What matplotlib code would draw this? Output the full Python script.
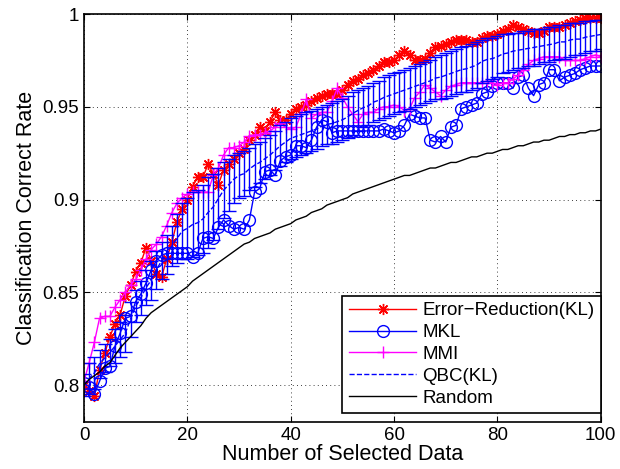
import numpy as np
import matplotlib
matplotlib.use("Agg")
import matplotlib.pyplot as plt

plt.rcParams['font.family'] = ['Liberation Sans', 'DejaVu Sans']

n_selected = list(range(0, 101))

error_reduction = [
    0.800, 0.797, 0.794, 0.808, 0.817, 0.826, 0.833, 0.838, 0.848, 0.854,
    0.861, 0.866, 0.874, 0.867, 0.860, 0.858, 0.868, 0.877, 0.888, 0.895,
    0.900, 0.907, 0.912, 0.912, 0.919, 0.914, 0.908, 0.916, 0.919, 0.922,
    0.925, 0.927, 0.932, 0.935, 0.939, 0.937, 0.942, 0.947, 0.943, 0.943,
    0.946, 0.949, 0.950, 0.951, 0.953, 0.955, 0.956, 0.957, 0.957, 0.957,
    0.959, 0.962, 0.964, 0.965, 0.967, 0.968, 0.970, 0.972, 0.974, 0.974,
    0.975, 0.978, 0.980, 0.978, 0.975, 0.975, 0.976, 0.979, 0.982, 0.983,
    0.984, 0.985, 0.986, 0.986, 0.986, 0.985, 0.985, 0.987, 0.988, 0.988,
    0.989, 0.991, 0.992, 0.994, 0.993, 0.992, 0.991, 0.990, 0.990, 0.991,
    0.993, 0.993, 0.993, 0.994, 0.995, 0.996, 0.997, 0.998, 0.998, 0.998,
    0.998]

mkl = [
    0.801, 0.799, 0.795, 0.802, 0.809, 0.810, 0.821, 0.828, 0.836, 0.837,
    0.845, 0.849, 0.855, 0.862, 0.867, 0.870, 0.871, 0.871, 0.871, 0.871,
    0.871, 0.869, 0.871, 0.879, 0.880, 0.879, 0.885, 0.889, 0.886, 0.884,
    0.885, 0.884, 0.889, 0.904, 0.906, 0.915, 0.916, 0.913, 0.921, 0.923,
    0.924, 0.929, 0.929, 0.928, 0.932, 0.939, 0.943, 0.942, 0.936, 0.937,
    0.937, 0.937, 0.937, 0.937, 0.937, 0.937, 0.937, 0.937, 0.938, 0.937,
    0.936, 0.937, 0.940, 0.946, 0.945, 0.944, 0.944, 0.932, 0.931, 0.934,
    0.931, 0.939, 0.940, 0.949, 0.950, 0.951, 0.952, 0.957, 0.958, 0.961,
    0.963, 0.963, 0.963, 0.960, 0.966, 0.967, 0.960, 0.956, 0.962, 0.963,
    0.970, 0.970, 0.964, 0.966, 0.967, 0.968, 0.970, 0.971, 0.972, 0.972,
    0.972]

mmi = [
    0.802, 0.812, 0.823, 0.836, 0.837, 0.837, 0.842, 0.846, 0.850, 0.854,
    0.857, 0.862, 0.868, 0.873, 0.876, 0.880, 0.886, 0.893, 0.898, 0.901,
    0.903, 0.904, 0.904, 0.904, 0.904, 0.913, 0.917, 0.924, 0.928, 0.928,
    0.929, 0.931, 0.934, 0.935, 0.935, 0.936, 0.937, 0.939, 0.941, 0.939,
    0.938, 0.939, 0.946, 0.954, 0.944, 0.946, 0.947, 0.947, 0.953, 0.960,
    0.955, 0.950, 0.946, 0.942, 0.946, 0.947, 0.947, 0.949, 0.950, 0.950,
    0.951, 0.950, 0.948, 0.949, 0.955, 0.958, 0.962, 0.960, 0.958, 0.956,
    0.959, 0.961, 0.962, 0.963, 0.963, 0.963, 0.963, 0.963, 0.964, 0.963,
    0.962, 0.963, 0.963, 0.965, 0.967, 0.970, 0.973, 0.975, 0.976, 0.977,
    0.977, 0.977, 0.977, 0.975, 0.975, 0.975, 0.975, 0.976, 0.977, 0.978,
    0.977]

qbc_mean = [
    0.8000, 0.8035, 0.8065, 0.8115, 0.8145, 0.8175, 0.8210, 0.8245, 0.8280, 0.8355,
    0.8425, 0.8470, 0.8525, 0.8565, 0.8620, 0.8670, 0.8705, 0.8750, 0.8790, 0.8830,
    0.8845, 0.8865, 0.8875, 0.8895, 0.8930, 0.8960, 0.9005, 0.9050, 0.9080, 0.9110,
    0.9130, 0.9140, 0.9165, 0.9185, 0.9200, 0.9220, 0.9240, 0.9265, 0.9290, 0.9310,
    0.9330, 0.9340, 0.9350, 0.9360, 0.9370, 0.9380, 0.9395, 0.9405, 0.9410, 0.9420,
    0.9430, 0.9445, 0.9465, 0.9480, 0.9495, 0.9505, 0.9525, 0.9535, 0.9550, 0.9560,
    0.9570, 0.9580, 0.9590, 0.9600, 0.9610, 0.9620, 0.9630, 0.9640, 0.9655, 0.9660,
    0.9670, 0.9680, 0.9690, 0.9700, 0.9705, 0.9715, 0.9725, 0.9745, 0.9755, 0.9760,
    0.9770, 0.9785, 0.9790, 0.9800, 0.9805, 0.9810, 0.9815, 0.9820, 0.9825, 0.9830,
    0.9835, 0.9840, 0.9850, 0.9850, 0.9860, 0.9865, 0.9865, 0.9875, 0.9880, 0.9885,
    0.9890]

qbc_err = [
    0.0060, 0.0085, 0.0085, 0.0075, 0.0075, 0.0075, 0.0090, 0.0095, 0.0100, 0.0095,
    0.0085, 0.0090, 0.0095, 0.0105, 0.0100, 0.0100, 0.0105, 0.0110, 0.0130, 0.0150,
    0.0165, 0.0175, 0.0175, 0.0185, 0.0190, 0.0180, 0.0165, 0.0150, 0.0140, 0.0130,
    0.0120, 0.0120, 0.0115, 0.0115, 0.0110, 0.0110, 0.0110, 0.0105, 0.0110, 0.0110,
    0.0110, 0.0110, 0.0110, 0.0110, 0.0110, 0.0110, 0.0105, 0.0105, 0.0110, 0.0110,
    0.0110, 0.0115, 0.0115, 0.0110, 0.0105, 0.0105, 0.0105, 0.0105, 0.0110, 0.0110,
    0.0110, 0.0110, 0.0110, 0.0110, 0.0110, 0.0110, 0.0110, 0.0110, 0.0115, 0.0120,
    0.0120, 0.0120, 0.0120, 0.0120, 0.0125, 0.0125, 0.0125, 0.0115, 0.0115, 0.0110,
    0.0110, 0.0105, 0.0100, 0.0100, 0.0095, 0.0100, 0.0095, 0.0100, 0.0095, 0.0090,
    0.0095, 0.0090, 0.0090, 0.0090, 0.0090, 0.0085, 0.0085, 0.0085, 0.0080, 0.0085,
    0.0080]

random_sel = [
    0.800, 0.803, 0.805, 0.807, 0.810, 0.812, 0.816, 0.820, 0.823, 0.826,
    0.829, 0.832, 0.836, 0.839, 0.841, 0.843, 0.845, 0.847, 0.849, 0.851,
    0.853, 0.856, 0.858, 0.860, 0.862, 0.864, 0.866, 0.868, 0.870, 0.872,
    0.874, 0.876, 0.877, 0.879, 0.880, 0.881, 0.882, 0.884, 0.885, 0.886,
    0.887, 0.889, 0.890, 0.891, 0.893, 0.894, 0.895, 0.897, 0.898, 0.899,
    0.900, 0.901, 0.903, 0.904, 0.905, 0.906, 0.907, 0.908, 0.909, 0.910,
    0.911, 0.912, 0.913, 0.913, 0.914, 0.915, 0.916, 0.917, 0.917, 0.918,
    0.919, 0.920, 0.920, 0.921, 0.922, 0.923, 0.923, 0.924, 0.925, 0.925,
    0.926, 0.927, 0.927, 0.928, 0.929, 0.929, 0.930, 0.931, 0.931, 0.932,
    0.932, 0.933, 0.934, 0.934, 0.935, 0.935, 0.936, 0.936, 0.937, 0.937,
    0.938]

fig = plt.figure(figsize=(6.2, 4.69), dpi=100)
ax = fig.add_axes([0.1355, 0.100, 0.8335, 0.870])

# matlab style asterisk: + and x on top of each other
ax.plot(n_selected, error_reduction, '-', color='red', marker=(8, 2, 0),
        markersize=8, markeredgewidth=1, lw=1, label='Error\u2212Reduction(KL)')
ax.plot(n_selected, mkl, '-', color='blue', marker='o', markersize=8.5,
        markerfacecolor='none', lw=1, label='MKL')
ax.plot(n_selected, mmi, '-', color='magenta', marker='+', markersize=9,
        lw=1, label='MMI')
ax.errorbar(n_selected, qbc_mean, yerr=qbc_err, fmt='none', ecolor='blue',
            elinewidth=1, capsize=5, capthick=1)
ax.plot(n_selected, qbc_mean, '--', color='blue', lw=1, label='QBC(KL)')
ax.plot(n_selected, random_sel, '-', color='black', lw=1, label='Random')

ax.set_xlim(0, 100)
ax.set_ylim(0.78, 1.0)
ax.set_xticks([0, 20, 40, 60, 80, 100])
ax.set_yticks([0.8, 0.85, 0.9, 0.95, 1.0])
ax.set_yticklabels(['0.8', '0.85', '0.9', '0.95', '1'])
ax.grid(True, linestyle=(0, (1, 4)), color='black', linewidth=0.6)
ax.tick_params(direction='in', top=True, right=True, labelsize=13.5, length=4)
for s in ax.spines.values():
    s.set_linewidth(1.2)

ax.set_xlabel('Number of Selected Data', fontsize=15.5, labelpad=0)
ax.set_ylabel('Classification Correct Rate', fontsize=15.5, labelpad=4)

leg = ax.legend(loc='lower right', bbox_to_anchor=(1.0, 0.022), fontsize=13.5,
                numpoints=1, handlelength=3.6, fancybox=False, framealpha=1,
                edgecolor='black', borderaxespad=0.0, borderpad=0.35,
                labelspacing=0.25, handletextpad=0.3)
leg.get_frame().set_linewidth(1.2)

fig.savefig('out.png', dpi=100)
